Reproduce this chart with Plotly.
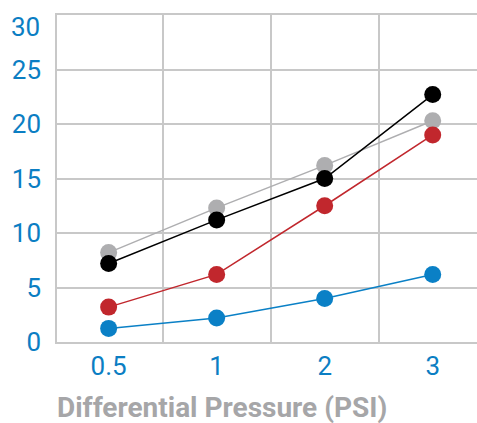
import plotly.graph_objects as go

categories = ["0.5", "1", "2", "3"]
gray_vals = [8.2, 12.3, 16.2, 20.3]
black_vals = [7.2, 11.2, 15.0, 22.7]
red_vals = [3.2, 6.2, 12.5, 19.0]
blue_vals = [1.25, 2.2, 4.0, 6.2]
y_ticks = [0, 5, 10, 15, 20, 25, 30]
y_labels = ["0", "5", "10", "15", "20", "25", ""]
top_label = "30"
x_title = "Differential Pressure (PSI)"

series = [
    ("gray", gray_vals, "#aeaeb0"),
    ("black", black_vals, "#000000"),
    ("red", red_vals, "#c1272d"),
    ("blue", blue_vals, "#0a80c6"),
]

xs = list(range(len(categories)))
fig = go.Figure()
for name, vals, col in series:
    fig.add_trace(go.Scatter(
        x=xs, y=vals, mode="lines+markers", name=name,
        line=dict(color=col, width=1.5),
        marker=dict(color=col, size=17),
        showlegend=False,
    ))

FONT = "Roboto, Arial, sans-serif"
tick_font = dict(family=FONT, size=26, color="#0b7ec3")
grid = "#c8c8c8"

fig.update_layout(
    width=477, height=423,
    margin=dict(l=57, r=0, t=15, b=81),
    paper_bgcolor="white", plot_bgcolor="white",
    xaxis=dict(
        range=[-0.478, 3.41], tickmode="array", tickvals=xs, ticktext=categories,
        showgrid=False, zeroline=False, showline=True, mirror=True, linecolor=grid, linewidth=1.5,
        ticks="", tickfont=tick_font, ticklabelstandoff=0, automargin=False,
        minor=dict(tickmode="array", tickvals=[0.5, 1.5, 2.5], showgrid=True, gridcolor=grid, gridwidth=1.5, ticks=""),
    ),
    yaxis=dict(
        range=[0, 30], tickmode="array", tickvals=y_ticks, ticktext=y_labels,
        showgrid=True, gridcolor=grid, gridwidth=1.5, zeroline=False,
        showline=True, linecolor=grid, linewidth=1.5,
        ticks="", tickfont=tick_font, ticklabelstandoff=9, automargin=False,
    ),
    annotations=[
        dict(
            text=x_title, xref="paper", yref="paper", x=-0.004, y=-0.199,
            xanchor="left", yanchor="middle", showarrow=False,
            font=dict(family=FONT, size=28, color="#a6a6a8", weight="bold"),
        ),
        dict(
            text=top_label, xref="paper", yref="y", x=0, y=30, xshift=-15, yshift=-12,
            xanchor="right", yanchor="middle", showarrow=False,
            font=tick_font,
        ),
    ],
)

fig.write_html("out.html", config={"displayModeBar": False},
               post_script="document.body.style.margin='0';")
